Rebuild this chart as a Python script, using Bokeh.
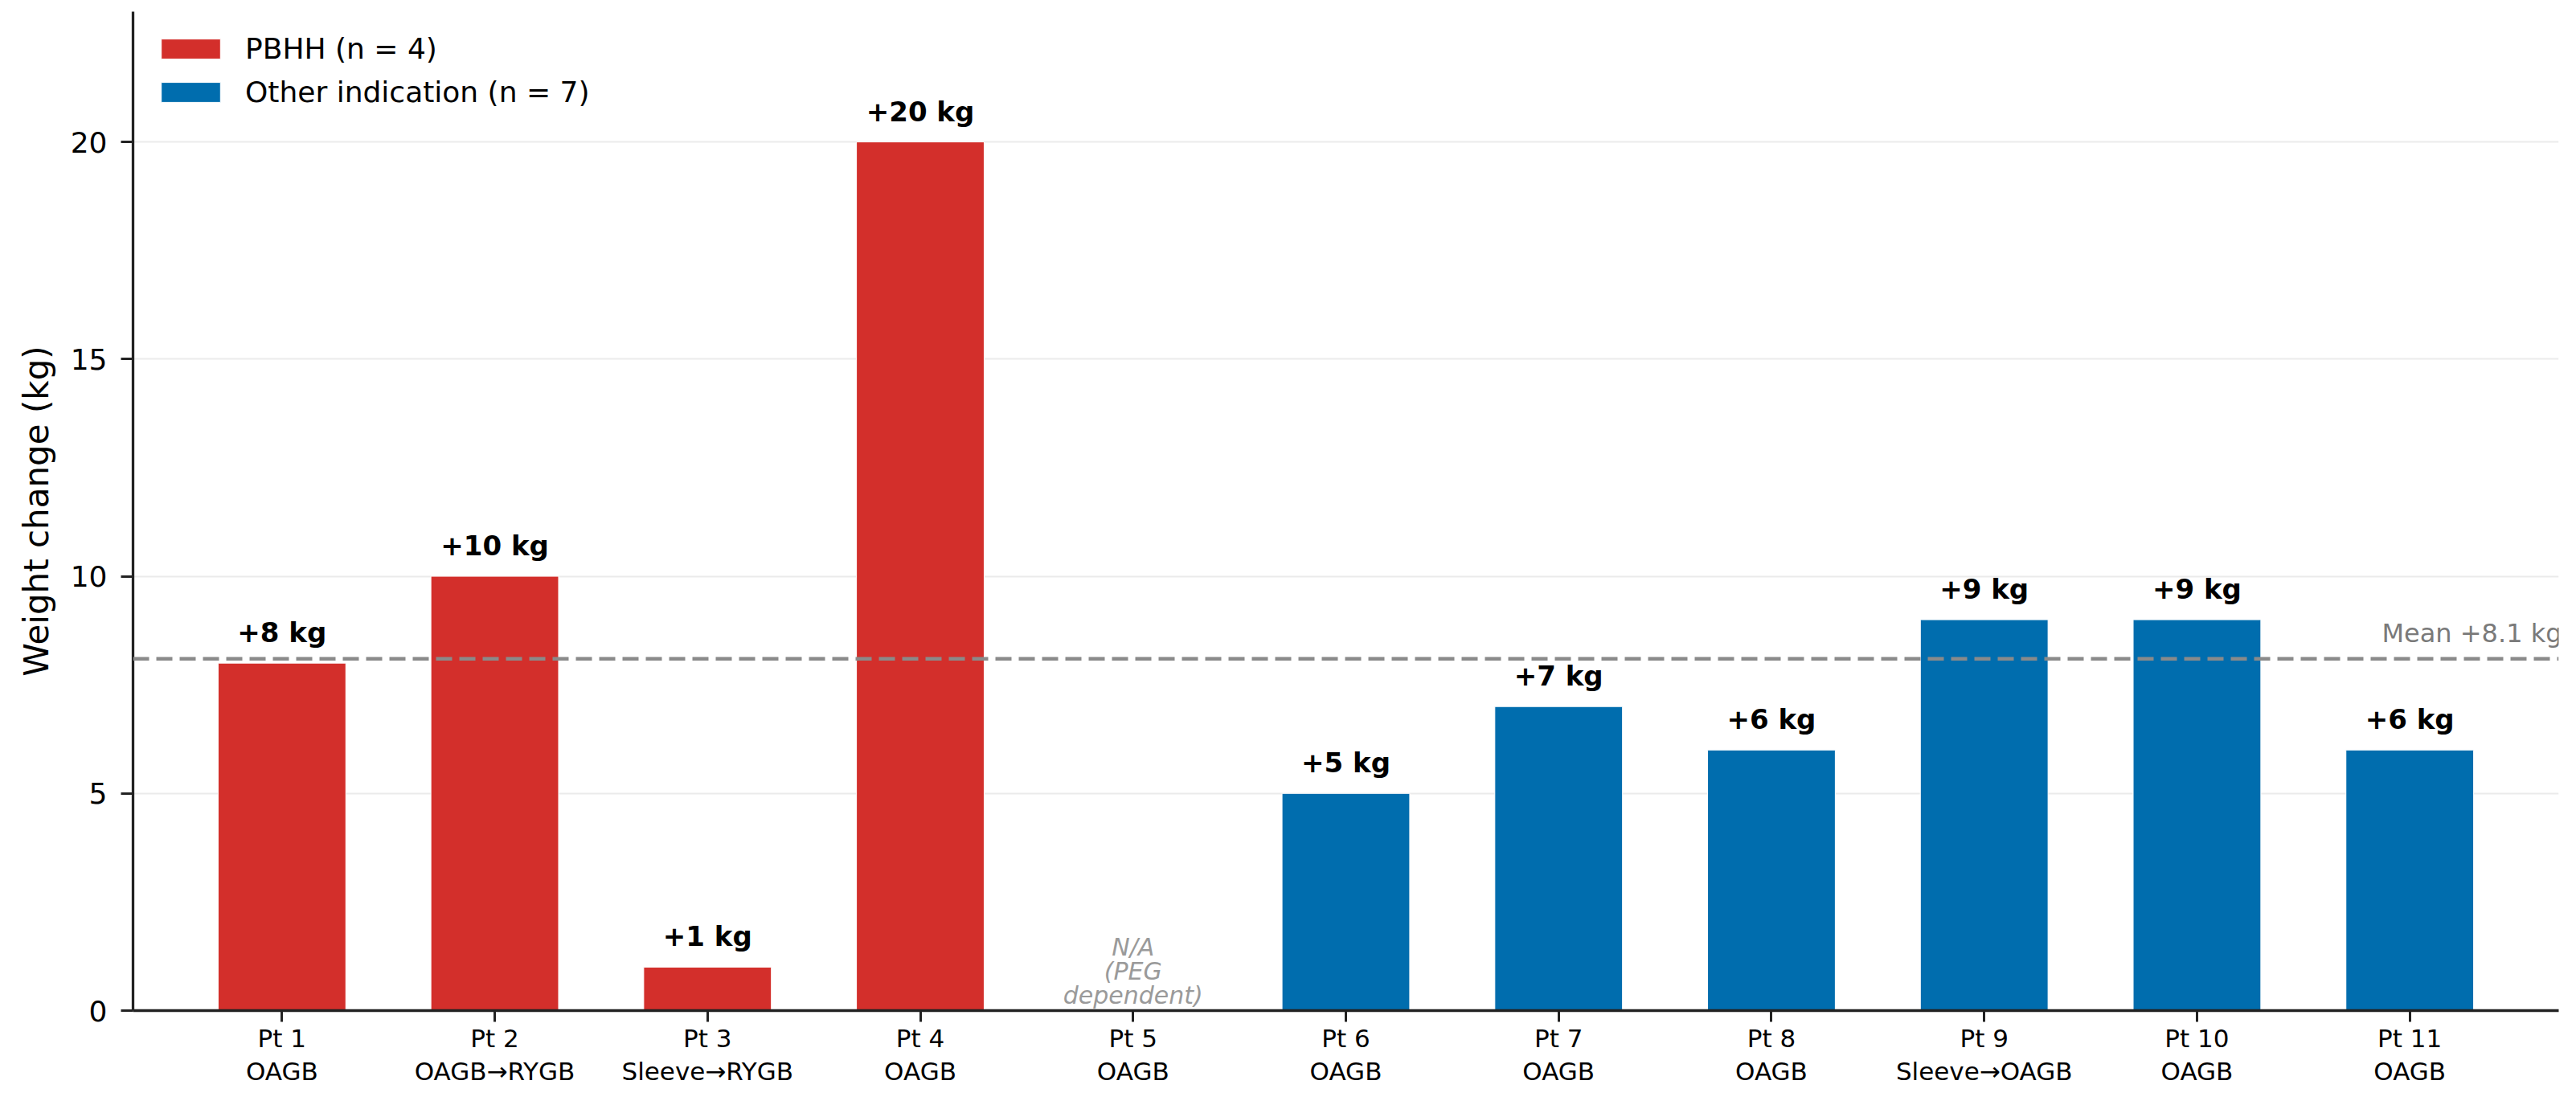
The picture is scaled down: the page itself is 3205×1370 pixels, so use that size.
from bokeh.plotting import figure
from bokeh.models import ColumnDataSource, Range1d, FixedTicker, Span, Label, Legend
from bokeh.core.properties import value
from bokeh.embed import file_html
from bokeh.resources import INLINE

# ---------------- data ----------------
patients = ["Pt 1", "Pt 2", "Pt 3", "Pt 4", "Pt 5", "Pt 6", "Pt 7", "Pt 8", "Pt 9", "Pt 10", "Pt 11"]
procedures = ["OAGB", "OAGB\u2192RYGB", "Sleeve\u2192RYGB", "OAGB", "OAGB", "OAGB",
              "OAGB", "OAGB", "Sleeve\u2192OAGB", "OAGB", "OAGB"]
weight_change = [8, 10, 1, 20, None, 5, 7, 6, 9, 9, 6]
group = ["PBHH", "PBHH", "PBHH", "PBHH", "Other", "Other", "Other", "Other", "Other", "Other", "Other"]
group_names = {"PBHH": "PBHH", "Other": "Other indication"}
colors = {"PBHH": "#D32F2B", "Other": "#006DAE"}
na_note = "N/A\n(PEG\ndependent)"
y_ticks = [0, 5, 10, 15, 20]

valid = [v for v in weight_change if v is not None]
mean_val = sum(valid) / len(valid)

FONT = "DejaVu Sans"
X_END = 10.7

p = figure(width=3189, height=1354, output_backend="svg", toolbar_location=None,
           x_range=Range1d(-0.7, X_END), y_range=Range1d(0, 23),
           min_border_left=165, min_border_right=6, min_border_top=14, min_border_bottom=97)
p.outline_line_color = None
p.background_fill_color = "white"
p.border_fill_color = "white"

# grid
p.xgrid.visible = False
p.ygrid.ticker = FixedTicker(ticks=y_ticks)
p.ygrid.grid_line_color = "#ebebeb"
p.ygrid.grid_line_width = 2

# bars per group
renderers = {}
for g in ["PBHH", "Other"]:
    xs = [i for i in range(len(patients)) if group[i] == g and weight_change[i] is not None]
    src = ColumnDataSource(dict(x=xs, top=[weight_change[i] for i in xs]))
    n = sum(1 for gg in group if gg == g)
    r = p.vbar(x="x", top="top", bottom=0, width=0.6, source=src,
               fill_color=colors[g], line_color="white", line_width=1)
    renderers[g] = (r, f"{group_names[g]} (n = {n})")

# value labels
lx = [i for i, v in enumerate(weight_change) if v is not None]
lab_src = ColumnDataSource(dict(x=lx, y=[weight_change[i] for i in lx],
                                t=[f"+{weight_change[i]} kg" for i in lx]))
p.text(x="x", y="y", text="t", source=lab_src, text_align="center", text_baseline="alphabetic",
       y_offset=-38, text_font=value(FONT), text_font_style="bold", text_font_size="34px",
       text_color="black")

# N/A note
na_idx = [i for i, v in enumerate(weight_change) if v is None]
na_src = ColumnDataSource(dict(x=na_idx, y=[0.5] * len(na_idx), t=[na_note] * len(na_idx)))
p.text(x="x", y="y", text="t", source=na_src, text_align="center", text_baseline="bottom",
       y_offset=26, text_font=value(FONT), text_font_style="italic", text_font_size="30px",
       text_color="#9a9a9a", text_line_height=0.86)

# mean line
p.add_layout(Span(location=mean_val, dimension="width", line_color="#8a8a8a",
                  line_width=4.5, line_dash="20 9"))
p.add_layout(Label(x=X_END, y=mean_val, text=f"Mean +{mean_val:.1f} kg", text_align="right",
                   text_baseline="alphabetic", x_offset=4, y_offset=32, text_font=FONT,
                   text_font_size="32px", text_color="#7a7a7a"))

# axes
xa = p.xaxis[0]
xa.ticker = FixedTicker(ticks=list(range(len(patients))))
xa.major_label_overrides = {i: f"{patients[i]}\n{procedures[i]}" for i in range(len(patients))}
xa.minor_tick_line_color = None
xa.major_tick_out = 14
xa.major_tick_in = 0
xa.major_tick_line_width = 3
xa.major_tick_line_color = "#222222"
xa.axis_line_width = 3.3
xa.axis_line_color = "#222222"
xa.major_label_text_font = FONT
xa.major_label_text_font_size = "31px"
xa.major_label_text_color = "black"
xa.major_label_text_line_height = 1.15
xa.major_label_standoff = 2

ya = p.yaxis[0]
ya.ticker = FixedTicker(ticks=y_ticks)
ya.minor_tick_line_color = None
ya.major_tick_out = 15
ya.major_tick_in = 0
ya.major_tick_line_width = 3
ya.major_tick_line_color = "#222222"
ya.axis_line_width = 3.3
ya.axis_line_color = "#222222"
ya.major_label_text_font = FONT
ya.major_label_text_font_size = "36px"
ya.major_label_text_color = "black"
ya.major_label_standoff = 17
ya.axis_label = "Weight change (kg)"
ya.axis_label_text_font = FONT
ya.axis_label_text_font_size = "42px"
ya.axis_label_text_font_style = "normal"
ya.axis_label_text_color = "black"
ya.axis_label_standoff = 15

# legend
legend = Legend(items=[(renderers[g][1], [renderers[g][0]]) for g in ["PBHH", "Other"]],
                location="top_left")
legend.margin = 18
legend.padding = 8
legend.border_line_alpha = 0
legend.background_fill_alpha = 0
legend.glyph_width = 92
legend.glyph_height = 31
legend.label_standoff = 22
legend.label_text_font = FONT
legend.label_text_font_size = "36px"
legend.label_text_color = "black"
legend.label_height = 31
legend.spacing = 13
p.add_layout(legend)

open("out.html", "w").write(file_html(p, INLINE))
